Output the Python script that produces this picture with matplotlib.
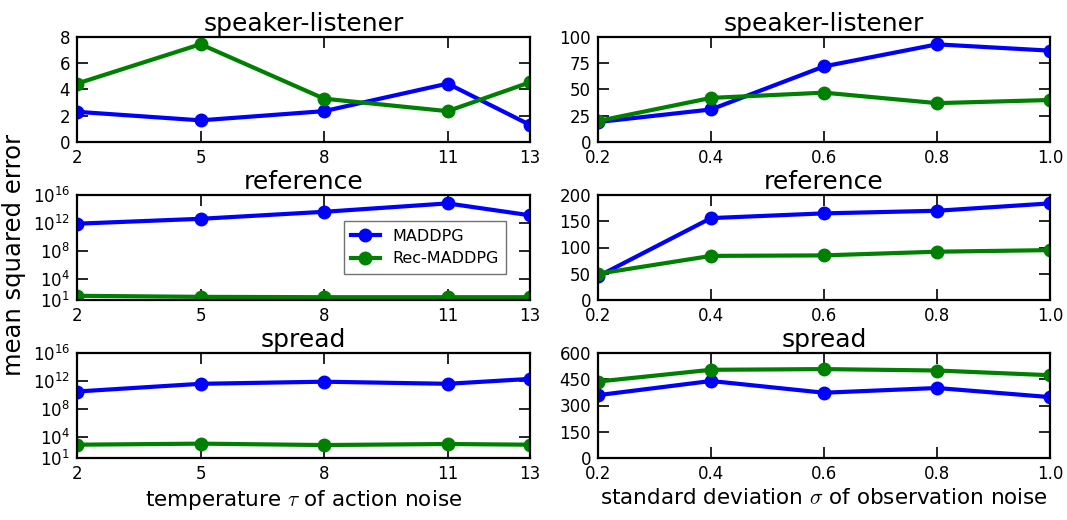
import numpy as np
import matplotlib
matplotlib.use("Agg")
import matplotlib.pyplot as plt
from matplotlib.ticker import FixedLocator, LogFormatterMathtext, NullLocator

# x values
temps = [2, 5, 8, 11, 13]
sigmas = [0.2, 0.4, 0.6, 0.8, 1.0]

# temperature of action noise (left column)
sl_temp_maddpg = [2.3, 1.65, 2.35, 4.45, 1.3]
sl_temp_rec = [4.45, 7.45, 3.3, 2.35, 4.55]
ref_temp_maddpg = [10**11.9, 10**12.6, 10**13.6, 10**14.8, 10**13.1]
ref_temp_rec = [10**1.6, 10**1.45, 10**1.4, 10**1.4, 10**1.4]
spr_temp_maddpg = [10**10.5, 10**11.6, 10**11.9, 10**11.6, 10**12.3]
spr_temp_rec = [10**2.9, 10**3.05, 10**2.85, 10**3.0, 10**2.9]

# std of observation noise (right column)
sl_obs_maddpg = [19, 31, 72, 93, 87]
sl_obs_rec = [20, 42, 47, 37, 40]
ref_obs_maddpg = [45, 156, 165, 170, 184]
ref_obs_rec = [50, 84, 85, 92, 95]
spr_obs_maddpg = [359, 440, 373, 400, 348]
spr_obs_rec = [437, 504, 508, 500, 473]

plt.rcParams['font.family'] = 'DejaVu Sans'
plt.rcParams['mathtext.fontset'] = 'cm'

fig = plt.figure(figsize=(10.67, 5.2), dpi=100)
W, H = 1067.0, 520.0
cols = [(77, 530), (598, 1050)]
rows = [(37, 142), (195, 300), (353, 458)]

def mkax(r, c):
    x0, x1 = cols[c]
    y0, y1 = rows[r]
    ax = fig.add_axes([x0 / W, 1 - y1 / H, (x1 - x0) / W, (y1 - y0) / H])
    for s in ax.spines.values():
        s.set_linewidth(1.6)
    ax.tick_params(direction='in', top=True, right=True, length=8, width=1.2,
                   labelsize=12, pad=5)
    return ax

def draw(ax, x, a, b):
    ax.plot(x, a, '-o', color='b', lw=3, ms=9, mec='b', label='MADDPG')
    ax.plot(x, b, '-o', color='g', lw=3, ms=9, mec='g', label='Rec-MADDPG')

titles = ['speaker-listener', 'reference', 'spread']
left = [(sl_temp_maddpg, sl_temp_rec), (ref_temp_maddpg, ref_temp_rec),
        (spr_temp_maddpg, spr_temp_rec)]
right = [(sl_obs_maddpg, sl_obs_rec), (ref_obs_maddpg, ref_obs_rec),
         (spr_obs_maddpg, spr_obs_rec)]

for r in range(3):
    ax = mkax(r, 0)
    draw(ax, temps, *left[r])
    ax.set_xlim(2, 13)
    ax.set_xticks(temps)
    ax.set_title(titles[r], fontsize=18, pad=4)
    if r == 0:
        ax.set_ylim(0, 8)
        ax.set_yticks([0, 2, 4, 6, 8])
    else:
        ax.set_yscale('log')
        ax.set_ylim(10, 1e16)
        ax.yaxis.set_major_locator(FixedLocator([1e1, 1e4, 1e8, 1e12, 1e16]))
        ax.yaxis.set_major_formatter(LogFormatterMathtext())
        ax.yaxis.set_minor_locator(NullLocator())
    if r == 1:
        leg = ax.legend(loc='center right', fontsize=11.5, fancybox=False,
                        borderpad=0.45, handlelength=1.8, borderaxespad=1.5)
        leg.get_frame().set_edgecolor('0.3')
    if r == 2:
        ax.set_xlabel(r'temperature $\tau$ of action noise', fontsize=15.5, labelpad=4)

rlims = [(0, 100, [0, 25, 50, 75, 100]), (0, 200, [0, 50, 100, 150, 200]),
         (0, 600, [0, 150, 300, 450, 600])]
for r in range(3):
    ax = mkax(r, 1)
    draw(ax, sigmas, *right[r])
    ax.set_xlim(0.2, 1.0)
    ax.set_xticks(sigmas)
    ax.set_xticklabels(['0.2', '0.4', '0.6', '0.8', '1.0'])
    ax.set_ylim(rlims[r][0], rlims[r][1])
    ax.set_yticks(rlims[r][2])
    ax.set_title(titles[r], fontsize=18, pad=4)
    if r == 2:
        ax.set_xlabel(r'standard deviation $\sigma$ of observation noise', fontsize=15.5, labelpad=4)

fig.text(0.013, 0.51, 'mean squared error', rotation=90, fontsize=17.5,
         va='center', ha='center')

fig.savefig('out.png', dpi=100, facecolor='white')
